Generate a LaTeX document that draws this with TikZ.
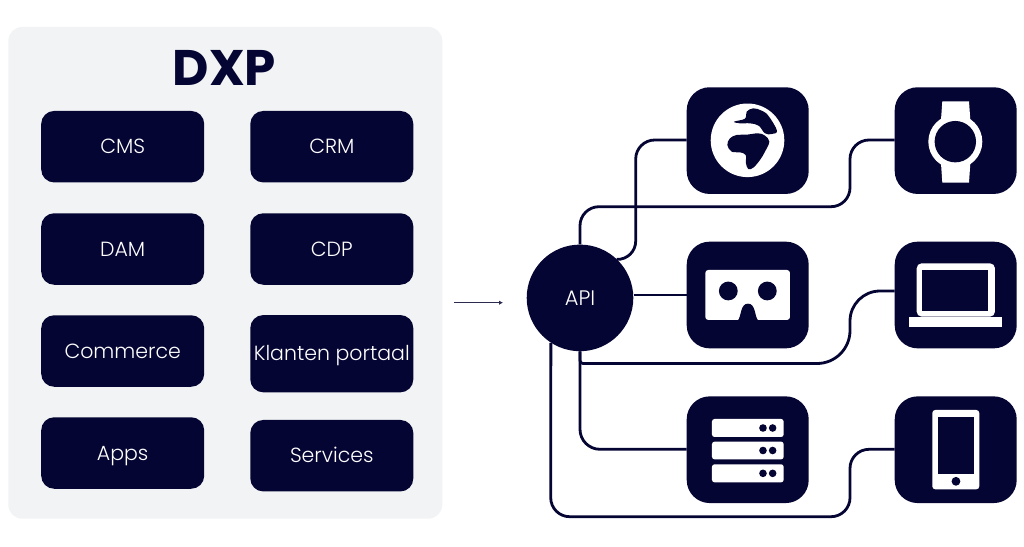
\documentclass[tikz,border=0pt]{standalone}
\usepackage{fontspec}
\usetikzlibrary{arrows.meta}
\setmainfont{Poppins}[UprightFont=* Light,BoldFont=* Bold]
\definecolor{navy}{HTML}{050533}
\definecolor{panel}{HTML}{F2F3F5}
\tikzset{
  x=1pt,y=-1pt,
  tile/.style={fill=navy,rounded corners=13pt,inner sep=0pt,minimum width=163pt,minimum height=71.5pt,text=white,text height=14pt,text depth=0pt,font=\fontsize{20.5}{24}\selectfont},
  icontile/.style={fill=navy,rounded corners=23pt,inner sep=0pt,minimum width=122pt,minimum height=106.7pt},
  wire/.style={draw=navy,line width=2.8pt,rounded corners=19pt},
  icon/.style={x=0.3333pt,y=-0.3333pt},
}
\begin{document}
\begin{tikzpicture}
\useasboundingbox (0,0) rectangle (1024,546);
\fill[white] (0,0) rectangle (1024,546);
% DXP panel
\node[fill=panel,rounded corners=14pt,inner sep=0pt,minimum width=434pt,minimum height=491.7pt] (panel) at (225.3,272.8) {};
\node[text=navy,text height=34pt,text depth=0pt,inner sep=0pt,font=\bfseries\fontsize{50}{52}\selectfont] (title) at (224.5,68.7) {DXP};
\node[tile] (cms) at (122.7,146.7) {CMS};
\node[tile] (crm) at (331.8,146.7) {CRM};
\node[tile] (dam) at (122.7,249) {DAM};
\node[tile] (cdp) at (331.8,249) {CDP};
\node[tile] (commerce) at (122.7,351) {Commerce};
\node[tile,minimum height=77.3pt] (portal) at (331.8,353.7) {Klanten portaal};
\node[tile] (apps) at (122.7,453) {Apps};
\node[tile] (services) at (331.8,455.7) {Services};
% small arrow towards the API
\coordinate (arrowstart) at (454,302.7);
\coordinate (arrowend) at (503,302.7);
\draw[navy!85,line width=0.9pt,-{Latex[length=4pt,width=4.5pt]}] (arrowstart) -- (arrowend);
% API hub and device tiles
\node[circle,fill=navy,minimum size=106.6pt,inner sep=0pt,text=white,font=\fontsize{21}{24}\selectfont] (api) at (580,297.9) {API};
\node[icontile] (globe) at (747.7,140.6) {};
\node[icontile] (watch) at (955.7,140.6) {};
\node[icontile] (vr) at (747.7,295) {};
\node[icontile] (laptop) at (955.7,295) {};
\node[icontile] (server) at (747.7,449.7) {};
\node[icontile] (phone) at (955.7,449.7) {};
% connectors from the hub to each device
\draw[wire] (api.46) -- (635.7,260) -- (635.7,140) -- (globe.west |- 0,140);
\draw[wire] (api.north) -- (580,206.7) -- (850,206.7) -- (850,140) -- (watch.west |- 0,140);
\draw[wire] (api.east |- vr.west) -- (vr.west);
\draw[wire,rounded corners=3pt] (api.south) -- (580,363.5) [rounded corners=33pt] -- (850,363.5) [rounded corners=30pt] -- (850,291) -- (laptop.west |- 0,291);
\draw[wire,rounded corners=20pt] (api.south) -- (580,449.3) -- (server.west |- 0,449.3);
\draw[wire] (api.-123) -- (550.7,516.7) -- (850,516.7) -- (850,449.3) -- (phone.west |- 0,449.3);
% globe icon
\fill[white] (747.5,140.3) circle (36.8pt);
\begin{scope}[shift={(520,70)},icon]
  \fill[navy] plot[smooth cycle,tension=0.6] coordinates {(642,155) (675,146) (680,125) (700,115) (725,122) (745,137) (771,182) (755,192) (735,190) (716,167) (690,160) (660,160)};
  \fill[navy] plot[smooth cycle,tension=0.6] coordinates {(622,225) (630,205) (650,195) (680,194) (715,190) (735,197) (748,215) (735,245) (720,270) (700,293) (685,297) (678,280) (677,255) (660,247) (635,245)};
  % headset icon
  \fill[white,rounded corners=3pt] (556,600) rectangle (810,750);
  \fill[navy] (625,663) circle (9.4pt);
  \fill[navy] (742,663) circle (9.4pt);
  \fill[navy] (653,752) .. controls (665,740) and (660,701) .. (684,701) .. controls (708,701) and (703,740) .. (715,752) -- cycle;
\end{scope}
\begin{scope}[shift={(780,70)},icon]
  % watch icon
  \fill[white] (487,94) -- (567,94) -- (571,150) -- (571,280) -- (567,338) -- (487,338) -- (483,280) -- (483,150) -- cycle;
  \fill[white] (526,215) circle (27pt);
  \fill[navy] (526,215) circle (20.7pt);
  % laptop icon
  \fill[white,rounded corners=5pt] (410,580) rectangle (645,740);
  \fill[navy] (427,601) rectangle (625,722);
  \fill[white] (388,741) rectangle (667,770);
\end{scope}
\begin{scope}[shift={(520,340)},icon]
  % server icon
  \foreach \ytop/\ybot in {237/291,305/358,373/427}{
    \fill[white,rounded corners=2.5pt] (576,\ytop) rectangle (791,\ybot);
    \fill[navy] (729,{(\ytop+\ybot)/2}) circle (3.8pt);
    \fill[navy] (758,{(\ytop+\ybot)/2}) circle (3.8pt);
  }
  % phone icon
  \fill[white,rounded corners=3pt] (1237,210) rectangle (1378,448);
  \fill[navy] (1254,230) rectangle (1363,402);
  \fill[navy] (1308,424) circle (4.4pt);
\end{scope}
\end{tikzpicture}
\end{document}
